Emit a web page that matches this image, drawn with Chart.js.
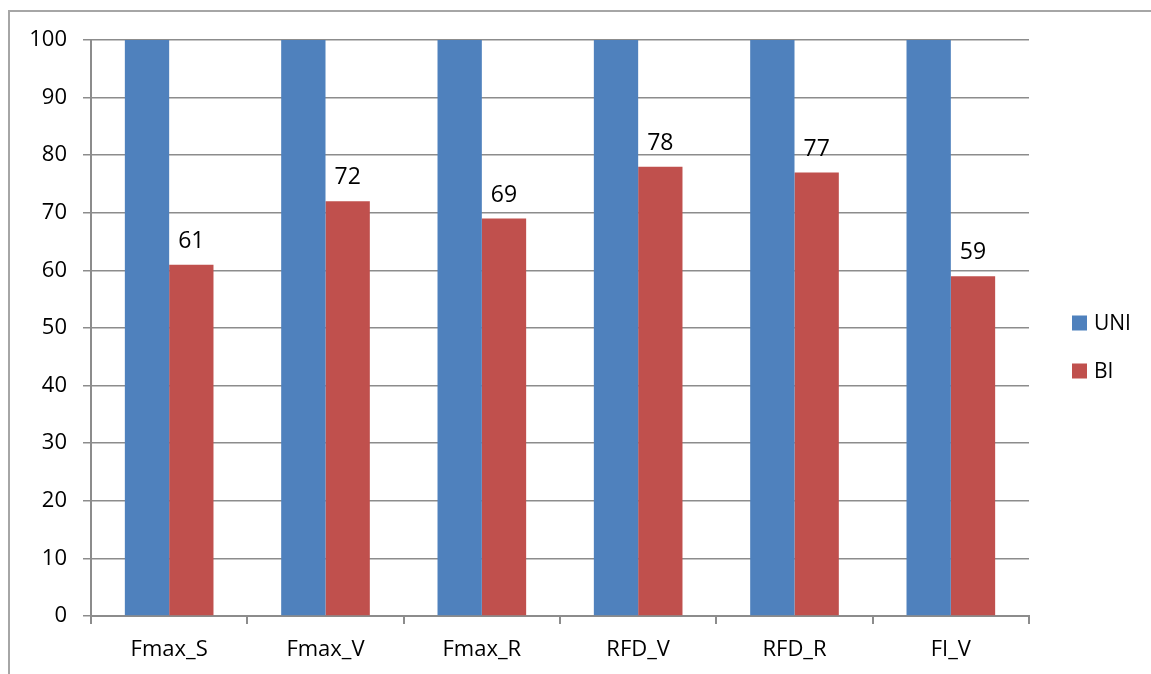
<!DOCTYPE html>
<html>
<head>
<meta charset="utf-8">
<script src="https://cdn.jsdelivr.net/npm/chart.js@4.4.1/dist/chart.umd.min.js"></script>
<style>
  html, body { margin: 0; padding: 0; background: #fff; }
  #wrap { position: relative; width: 1151px; height: 674px; overflow: hidden; }
  #frame { position: absolute; left: 8px; top: 10px; width: 1200px; height: 700px;
           border-top: 2px solid #a6a6a6; border-left: 2px solid #a6a6a6; pointer-events: none; }
</style>
</head>
<body>
<div id="wrap">
  <canvas id="chart" width="1151" height="674"></canvas>
  <div id="frame"></div>
</div>
<script>
// data ================================
const categories = ["Fmax_S", "Fmax_V", "Fmax_R", "RFD_V", "RFD_R", "FI_V"];
const uniValues = [100, 100, 100, 100, 100, 100];
const biValues = [61, 72, 69, 78, 77, 59];
const yTicks = [0, 10, 20, 30, 40, 50, 60, 70, 80, 90, 100];

const FONT = "'Open Sans', 'Liberation Sans', sans-serif";
const gridColor = "#8c8c8c";

// value labels over the BI bars
const barLabels = {
  id: "barLabels",
  afterDatasetsDraw(chart) {
    const ctx = chart.ctx;
    const meta = chart.getDatasetMeta(1);
    ctx.save();
    ctx.font = "23px " + FONT;
    ctx.fillStyle = "#000";
    ctx.textAlign = "center";
    ctx.textBaseline = "bottom";
    meta.data.forEach((bar, i) => {
      ctx.fillText(String(biValues[i]), bar.x, bar.y - 12);
    });
    ctx.restore();
  },
};

// legend on the right, drawn by hand
const sideLegend = {
  id: "sideLegend",
  afterDraw(chart) {
    const ctx = chart.ctx;
    const x = chart.chartArea.right + 43;
    const mid = (chart.chartArea.top + chart.chartArea.bottom) / 2 + 19;
    const rows = chart.data.datasets.map((ds, i) => ({
      label: ds.label,
      color: ds.backgroundColor,
      y: mid + (i - 0.5) * 48,
    }));
    ctx.save();
    ctx.font = "21px " + FONT;
    ctx.textBaseline = "middle";
    rows.forEach((r) => {
      ctx.fillStyle = r.color;
      ctx.fillRect(x, r.y - 7.5, 15, 15);
      ctx.fillStyle = "#000";
      ctx.fillText(r.label, x + 22, r.y + 1);
    });
    ctx.restore();
  },
};

const ctx = document.getElementById("chart").getContext("2d");
new Chart(ctx, {
  type: "bar",
  data: {
    labels: categories,
    datasets: [
      {
        label: "UNI",
        data: uniValues,
        backgroundColor: "#4f81bd",
        categoryPercentage: 0.567,
        barPercentage: 1.0,
      },
      {
        label: "BI",
        data: biValues,
        backgroundColor: "#c0504d",
        categoryPercentage: 0.567,
        barPercentage: 1.0,
      },
    ],
  },
  options: {
    responsive: false,
    animation: false,
    layout: { padding: { top: 40, right: 122, bottom: 0, left: 0 } },
    plugins: {
      legend: { display: false },
      tooltip: { enabled: false },
    },
    scales: {
      x: {
        offset: true,
        afterFit: (scale) => { scale.height = 58; },
        grid: {
          display: true,
          offset: true,
          drawOnChartArea: false,
          drawTicks: true,
          tickLength: 8,
          color: gridColor,
          lineWidth: 2,
        },
        border: { color: gridColor, width: 2 },
        ticks: {
          color: "#000",
          font: { family: FONT, size: 22 },
          padding: 13,
          maxRotation: 0,
        },
      },
      y: {
        min: 0,
        max: 100,
        afterFit: (scale) => { scale.width = 91; },
        afterBuildTicks: (scale) => {
          scale.ticks = yTicks.map((v) => ({ value: v }));
        },
        grid: {
          color: gridColor,
          lineWidth: 1.5,
          tickLength: 8,
        },
        border: { color: gridColor, width: 2 },
        ticks: {
          color: "#000",
          font: { family: FONT, size: 22 },
          padding: 16,
        },
      },
    },
  },
  plugins: [barLabels, sideLegend],
});
</script>
</body>
</html>
